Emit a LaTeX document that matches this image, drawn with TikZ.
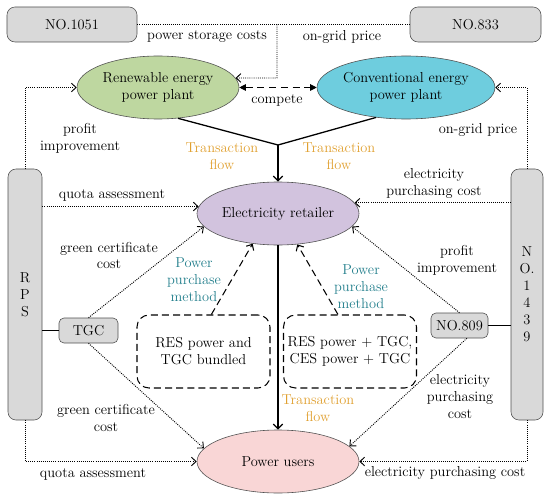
\documentclass[tikz,border=0pt]{standalone}
\usepackage{xcolor}
\usetikzlibrary{arrows.meta,shapes.geometric}
\definecolor{PPGreen}{HTML}{BED7A0}
\definecolor{PPCyan}{HTML}{6ECDDE}
\definecolor{PPLilac}{HTML}{D2C3DE}
\definecolor{PPPink}{HTML}{F9D6D6}
\definecolor{PPGrey}{HTML}{D9D9D9}
\definecolor{PPBorder}{HTML}{505050}
\definecolor{PPOrange}{HTML}{E0A030}
\definecolor{PPTeal}{HTML}{237F8C}

\begin{document}
\begin{tikzpicture}[x=0.3mm,y=-0.3mm,font=\fontsize{12.3}{14.5}\selectfont,
  plant/.style={ellipse,draw=PPBorder,line width=0.5pt,minimum width=48.6mm,minimum height=18.9mm,inner sep=0pt,align=center},
  greybox/.style={draw=PPBorder,fill=PPGrey,line width=0.5pt,rounded corners=2.4mm,inner sep=0pt,align=center},
  methodbox/.style={draw,line width=0.9pt,dash pattern=on 6pt off 3.5pt,rounded corners=3.6mm,minimum width=39.9mm,minimum height=21.9mm,align=center},
  lbl/.style={align=center,inner sep=0pt},
  flowlbl/.style={lbl,text=PPOrange},
  methodlbl/.style={lbl,text=PPTeal},
  flowline/.style={line width=1.1pt},
  flowarrow/.style={flowline,-{Straight Barb[length=1.4mm,width=2.8mm]}},
  dotline/.style={line width=0.8pt,dash pattern=on 0.8pt off 1pt},
  dotarrow/.style={dotline,-{Straight Barb[length=1.4mm,width=2.6mm]}},
  dasharrow/.style={line width=0.9pt,dash pattern=on 6pt off 3.5pt,-{Straight Barb[length=1.4mm,width=2.6mm]}}]
\path[use as bounding box] (0,0) rectangle (550,499);

% actors
\node[greybox,minimum width=39mm,minimum height=10.5mm] (n1051) at (72,24.5) {NO.1051};
\node[greybox,minimum width=39.3mm,minimum height=10.5mm] (n833) at (475.5,24.5) {NO.833};
\node[plant,fill=PPGreen] (renew) at (158,87.5) {Renewable energy\\power plant};
\node[plant,fill=PPCyan] (conv) at (406,87.5) {Conventional energy\\power plant};
\node[plant,fill=PPLilac] (retail) at (278,213.5) {Electricity retailer};
\node[plant,fill=PPPink] (users) at (278,461.5) {Power users};
\node[greybox,minimum width=10.2mm,minimum height=75.3mm] (rps) at (25,294.5) {R\\P\\S};
\node[greybox,minimum width=9.6mm,minimum height=75.3mm] (n1439) at (527,294.5) {N\\O.\\1\\4\\3\\9};
\node[greybox,rounded corners=1.5mm,minimum width=17.7mm,minimum height=7.5mm] (tgc) at (88.5,330.5) {TGC};
\node[greybox,rounded corners=1.5mm,minimum width=17.1mm,minimum height=7.5mm] (n809) at (459.5,325.5) {NO.809};
\node[methodbox] (bundle) at (203.5,351.5) {RES power and\\TGC bundled};
\node[methodbox] (mixed) at (350,351.5) {RES power + TGC,\\CES power + TGC};

% transaction flow
\coordinate (merge) at (278,145);
\draw[flowline] (renew.-57) -- (merge);
\draw[flowline] (conv.-135) -- (merge);
\draw[flowarrow] (merge) -- (retail.north);
\draw[flowarrow] (retail.south) -- (users.north);
\draw[line width=0.9pt,dash pattern=on 6pt off 4pt,{Triangle[length=2mm,width=2mm]}-{Triangle[length=2mm,width=2mm]}] (renew.east) -- (conv.west);
\draw[dasharrow] (bundle.78) -- (retail.-130);
\draw[dasharrow] (mixed.108) -- (retail.-58);

% prices and costs
\coordinate (feed) at (277,24.5);
\coordinate (feeddown) at (277,78);
\draw[dotline] (n1051.east) -- (feed);
\draw[dotline] (n833.west) -- (feed);
\draw[dotarrow] (feed) -- (feeddown) -- (renew.7);
\draw[dotarrow] (n1439.north) |- (conv.east);
\draw[dotarrow] (rps.north) |- (renew.west);
\draw[dotarrow] (retail.175 -| rps.east) -- (retail.175);
\draw[dotarrow] (retail.8 -| n1439.west) -- (retail.8);
\draw[line width=0.6pt] (tgc.west -| rps.east) -- (tgc.west);
\draw[line width=0.6pt] (n809.east) -- (n809.east -| n1439.west);
\draw[dotarrow] (tgc.north) -- (retail.190);
\draw[dotarrow] (tgc.south) -- (users.170);
\draw[dotarrow] (n809.north) -- (retail.-10);
\draw[dotarrow] (n809.-60) -- (users.12);
\draw[dotarrow] (rps.south) |- (users.west);
\draw[dotarrow] (n1439.south) |- (users.east);

% labels
\node[lbl] (lstorage) at (207,37) {power storage costs};
\node[lbl] (lgrid) at (342,37) {on-grid price};
\node[lbl] (lcompete) at (277,100) {compete};
\node[lbl] (lgridright) at (478,130) {on-grid price};
\node[lbl] (lprofit) at (80,138.5) {profit\\improvement};
\node[flowlbl] (lflowleft) at (222,156.5) {Transaction\\flow};
\node[flowlbl] (lflowright) at (339,156.5) {Transaction\\flow};
\node[lbl] (lquota) at (112,195) {quota assessment};
\node[lbl] (lbuy) at (434,183) {electricity\\purchasing cost};
\node[lbl] (lgreen) at (109,255.5) {green certificate\\cost};
\node[methodlbl] (lmethodleft) at (194,280) {Power\\purchase\\method};
\node[methodlbl] (lmethodright) at (361,287) {Power\\purchase\\method};
\node[lbl] (lprofitright) at (457,260) {profit\\improvement};
\node[flowlbl] (lflowdown) at (318,408) {Transaction\\flow};
\node[lbl] (lgreendown) at (106,418) {green certificate\\cost};
\node[lbl] (lbuyright) at (460,397) {electricity\\purchasing\\cost};
\node[lbl] (lquotadown) at (93,474) {quota assessment};
\node[lbl] (lbuydown) at (445,473) {electricity purchasing cost};
\end{tikzpicture}
\end{document}
